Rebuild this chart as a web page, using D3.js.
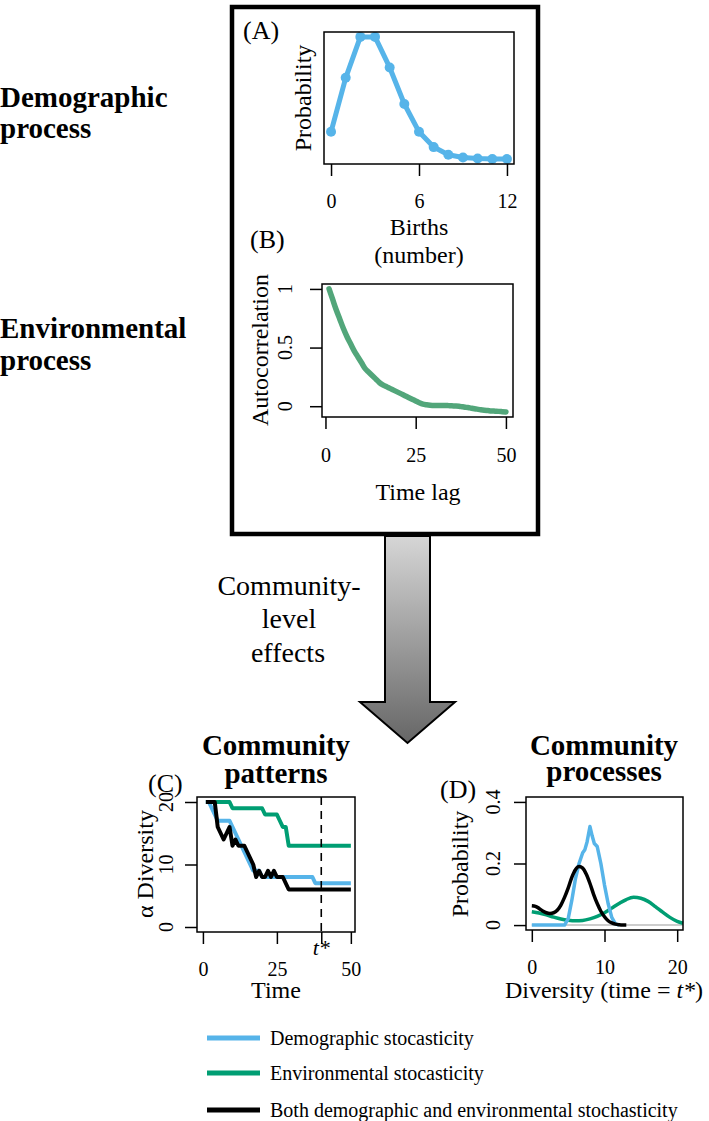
<!DOCTYPE html>
<html><head><meta charset="utf-8">
<script src="https://cdn.jsdelivr.net/npm/d3@7"></script>
<style>
body{margin:0;background:#fff}
svg{display:block}
text{font-family:"Liberation Serif","Times New Roman",serif;fill:#000}
</style>
</head><body>
<svg id="c" width="709" height="1121"></svg>
<script>
// ---------------- DATA ----------------
const BLUE = "#56B4E9", GREEN = "#009E73", GREEN_B = "#52a67a", BLACK = "#000000";

// Panel A: births distribution
const birthsX = [0,1,2,3,4,5,6,7,8,9,10,11,12];
const birthsProb = [0.050,0.149,0.224,0.224,0.168,0.101,0.050,0.022,0.008,0.003,0.001,0.0003,0.0001];
const birthsTicks = [0,6,12];

// Panel B: autocorrelation
const lagX = [1,2,3,4,5,6,7,8,9,10,11,12,13,14,15,16,17,18,19,20,21,22,23,24,25,26,27,28,29,30,31,32,33,34,35,36,37,38,39,40,41,42,43,44,45,46,47,48,49,50];
const autoCorr = [1.0,0.91,0.82,0.74,0.66,0.59,0.53,0.47,0.42,0.37,0.32,0.29,0.26,0.23,0.20,0.18,0.165,0.15,0.135,0.12,0.105,0.09,0.075,0.06,0.045,0.03,0.018,0.012,0.008,0.006,0.006,0.006,0.006,0.005,0.003,0.002,0.0,-0.005,-0.01,-0.014,-0.02,-0.025,-0.03,-0.034,-0.037,-0.04,-0.042,-0.044,-0.047,-0.05];
const lagTicks = [0,25,50];
const acTicks = [0,0.5,1];
const acTickLabels = ["0","0.5","1"];

// Panel C: alpha diversity through time
const timeX = [1,2,3,4,5,6,7,8,9,10,11,12,13,14,15,16,17,18,19,20,21,22,23,24,25,26,27,28,29,30,31,32,33,34,35,36,37,38,39,40,41,42,43,44,45,46,47,48,49,50];
const divEnv  = [20,20,20,20,20,20,20,20,20,19,19,19,19,19,19,19,19,19,19,19,18,18,18,18,18,17,16,16,13,13,13,13,13,13,13,13,13,13,13,13,13,13,13,13,13,13,13,13,13,13];
const divDemo = [20,20,19,18,17,17,17,17,17,16,15,14,13,12,11,10,9,9,9,8,8,8,8,8,8,8,8,8,8,8,8,8,8,8,8,8,8,7,7,7,7,7,7,7,7,7,7,7,7,7];
const divBoth = [20,20,20,20,16,15,14,15,16,13,14,13,13,13,12,11,10,8,9,8,8,9,8,9,8,8,8,7,6,6,6,6,6,6,6,6,6,6,6,6,6,6,6,6,6,6,6,6,6,6];
const timeTicks = [0,25,50];
const tStar = 40;
const divTicks = [0,10,20];

// Panel D: probability of diversity at t*
const demoX = [0,4.5,5,5.5,6,6.5,7,7.3,7.6,8.0,8.3,8.6,9.0,9.5,10,10.5,11,11.5,12];
const demoY = [0,0,0.02,0.08,0.15,0.20,0.235,0.245,0.27,0.32,0.29,0.265,0.255,0.20,0.13,0.07,0.025,0.004,0];
const bothX = [0,0.5,1,1.5,2,2.5,3,3.5,4,4.5,5,5.5,6,6.5,7,7.5,8,8.5,9,9.5,10,10.5,11,11.5,12,12.5,13];
const bothY = [0.063,0.061,0.054,0.046,0.040,0.038,0.040,0.048,0.065,0.090,0.120,0.155,0.180,0.190,0.185,0.165,0.135,0.100,0.070,0.045,0.027,0.014,0.007,0.003,0.001,0,0];
const envX = [0,1,2,3,4,5,6,7,8,9,10,11,12,13,14,15,16,17,18,19,20,20.8];
const envY = [0.043,0.039,0.033,0.026,0.020,0.016,0.014,0.015,0.020,0.028,0.040,0.055,0.070,0.083,0.090,0.087,0.077,0.060,0.042,0.025,0.012,0.006];
const dxTicks = [0,10,20];
const dyTicks = [0,0.2,0.4];
const dyTickLabels = ["0","0.2","0.4"];

const legendLabels = ["Demographic stocasticity","Environmental stocasticity","Both demographic and environmental stochasticity"];
const legendColors = [BLUE, GREEN, BLACK];

// ---------------- DRAW ----------------
const svg = d3.select('#c');
const defs = svg.append('defs');

function T(x,y,s,size,opt={}) {
  const t = svg.append('text').attr('x',x).attr('y',y).attr('font-size',size).text(s);
  if (opt.anchor) t.attr('text-anchor',opt.anchor);
  if (opt.bold) t.attr('font-weight','bold');
  if (opt.italic) t.attr('font-style','italic');
  if (opt.rot) t.attr('transform',`rotate(-90,${x},${y})`);
  return t;
}
function box(x0,y0,x1,y1,w=1.5){
  svg.append('rect').attr('x',x0).attr('y',y0).attr('width',x1-x0).attr('height',y1-y0)
    .attr('fill','none').attr('stroke','#000').attr('stroke-width',w);
}
function xAxis(scale, yPos, ticks, labels, offset=44){
  const g = svg.append('g').attr('transform',`translate(0,${yPos})`)
    .call(d3.axisBottom(scale).tickValues(ticks).tickSize(12).tickSizeOuter(0)
      .tickFormat((d,i)=>labels ? labels[i] : d));
  g.select('.domain').remove();
  g.selectAll('line').attr('stroke','#000').attr('stroke-width',1.5);
  g.selectAll('text').attr('y',offset).attr('dy',0).attr('font-size',20)
    .attr('font-family','"Liberation Serif", serif').attr('fill','#000');
  g.attr('font-family',null).attr('font-size',null);
  return g;
}
function yAxis(scale, xPos, ticks, labels, labelX){
  const g = svg.append('g').attr('transform',`translate(${xPos},0)`)
    .call(d3.axisLeft(scale).tickValues(ticks).tickSize(12).tickSizeOuter(0).tickFormat(''));
  g.select('.domain').remove();
  g.selectAll('line').attr('stroke','#000').attr('stroke-width',1.5);
  ticks.forEach((v,i)=>T(labelX, scale(v), labels[i], 20, {anchor:'middle', rot:true}));
}

// left headings
T(0,107,'Demographic',29,{bold:true});
T(0,138,'process',29,{bold:true});
T(0,338,'Environmental',29,{bold:true});
T(0,370,'process',29,{bold:true});

// big frame
svg.append('rect').attr('x',232).attr('y',7).attr('width',306).attr('height',527)
  .attr('fill','none').attr('stroke','#000').attr('stroke-width',4.5);

// ---- Panel A ----
const ax = d3.scaleLinear().domain([-0.48,12.48]).range([324,514]);
const ay = d3.scaleLinear().domain([-0.009,0.233]).range([164,32]);
const aData = birthsX.map((b,i)=>[b,birthsProb[i]]);
svg.append('path').datum(aData)
  .attr('d', d3.line().x(d=>ax(d[0])).y(d=>ay(d[1])))
  .attr('fill','none').attr('stroke',BLUE).attr('stroke-width',5).attr('stroke-linejoin','round');
svg.append('g').selectAll('circle').data(aData).join('circle')
  .attr('cx',d=>ax(d[0])).attr('cy',d=>ay(d[1])).attr('r',5).attr('fill',BLUE);
box(324,32,514,164);
xAxis(ax,164,birthsTicks);
T(243,39,'(A)',26);
T(311,98,'Probability',24,{anchor:'middle',rot:true});
T(419,235,'Births',24,{anchor:'middle'});
T(419,263,'(number)',24,{anchor:'middle'});

// ---- Panel B ----
const bx = d3.scaleLinear().domain([-0.96,51.96]).range([322,513]);
const by = d3.scaleLinear().domain([-0.092,1.042]).range([417,284]);
svg.append('path').datum(lagX.map((l,i)=>[l,autoCorr[i]]))
  .attr('d', d3.line().curve(d3.curveMonotoneX).x(d=>bx(d[0])).y(d=>by(d[1])))
  .attr('fill','none').attr('stroke',GREEN_B).attr('stroke-width',5.5).attr('stroke-linecap','round');
box(322,284,513,417);
xAxis(bx,417,lagTicks,null,45);
yAxis(by,322,acTicks,acTickLabels,292);
T(250,248,'(B)',26);
T(268,350,'Autocorrelation',24,{anchor:'middle',rot:true});
T(418,500,'Time lag',24,{anchor:'middle'});

// ---- Arrow ----
const grad = defs.append('linearGradient').attr('id','ag').attr('x1',0).attr('y1',0).attr('x2',0).attr('y2',1);
grad.append('stop').attr('offset','0%').attr('stop-color','#d6d6d6');
grad.append('stop').attr('offset','100%').attr('stop-color','#666666');
svg.append('path')
  .attr('d','M385,536 L430,536 L430,702 L455,702 L407.5,743 L360,702 L385,702 Z')
  .attr('fill','url(#ag)').attr('stroke','#000').attr('stroke-width',2).attr('stroke-linejoin','miter');
T(289,595,'Community-',28,{anchor:'middle'});
T(289,628,'level',28,{anchor:'middle'});
T(288,662,'effects',28,{anchor:'middle'});

// ---- Panel C ----
const cx = d3.scaleLinear().domain([-2,51.4]).range([197,355]);
const cy = d3.scaleLinear().domain([-0.8,20.8]).range([932,797]);
const cLine = d3.line().x(d=>cx(d[0])).y(d=>cy(d[1]));
[[divEnv,GREEN],[divDemo,BLUE],[divBoth,BLACK]].forEach(([arr,col])=>{
  svg.append('path').datum(timeX.map((t,i)=>[t,arr[i]])).attr('d',cLine)
    .attr('fill','none').attr('stroke',col).attr('stroke-width',4).attr('stroke-linejoin','round');
});
svg.append('line').attr('x1',cx(tStar)).attr('x2',cx(tStar)).attr('y1',797).attr('y2',932)
  .attr('stroke','#000').attr('stroke-width',1.6).attr('stroke-dasharray','8,6');
box(197,797,355,932);
xAxis(cx,932,[0,25,tStar,50],["0","25","","50"]);
T(cx(tStar),955,'t*',22,{anchor:'middle',italic:true});
yAxis(cy,197,divTicks,["0","10","20"],173);
T(148,792,'(C)',26);
T(153,864,'α Diversity',24,{anchor:'middle',rot:true});
T(276,998,'Time',24,{anchor:'middle'});
T(276,755,'Community',29,{anchor:'middle',bold:true});
T(276,783,'patterns',29,{anchor:'middle',bold:true});

// ---- Panel D ----
const dx = d3.scaleLinear().domain([-0.8,20.8]).range([526,683]);
const dy = d3.scaleLinear().domain([-0.016,0.416]).range([930,797]);
svg.append('line').attr('x1',dx(0)).attr('x2',683).attr('y1',dy(0)).attr('y2',dy(0))
  .attr('stroke','#bdbdbd').attr('stroke-width',1.5);
const dLine = d3.line().curve(d3.curveMonotoneX).x(d=>dx(d[0])).y(d=>dy(d[1]));
const dLineLin = d3.line().x(d=>dx(d[0])).y(d=>dy(d[1]));
svg.append('path').datum(envX.map((x,i)=>[x,envY[i]])).attr('d',dLine)
  .attr('fill','none').attr('stroke',GREEN).attr('stroke-width',3.5);
svg.append('path').datum(demoX.map((x,i)=>[x,demoY[i]])).attr('d',dLineLin)
  .attr('fill','none').attr('stroke',BLUE).attr('stroke-width',3.5).attr('stroke-linejoin','round');
svg.append('path').datum(bothX.map((x,i)=>[x,bothY[i]])).attr('d',dLine)
  .attr('fill','none').attr('stroke',BLACK).attr('stroke-width',3.5);
box(526,797,683,930);
xAxis(dx,930,dxTicks);
yAxis(dy,526,dyTicks,dyTickLabels,500);
T(440,798,'(D)',26);
T(468,864,'Probability',24,{anchor:'middle',rot:true});
const dl = T(604,998,'',24,{anchor:'middle'});
dl.append('tspan').text('Diversity (time = ');
dl.append('tspan').attr('font-style','italic').text('t*');
dl.append('tspan').text(')');
T(604,755,'Community',29,{anchor:'middle',bold:true});
T(604,781,'processes',29,{anchor:'middle',bold:true});

// ---- Legend ----
const legY = [1038,1073,1110];
legendLabels.forEach((lab,i)=>{
  svg.append('line').attr('x1',207).attr('x2',260).attr('y1',legY[i]).attr('y2',legY[i])
    .attr('stroke',legendColors[i]).attr('stroke-width',5);
  T(270,legY[i]+7,lab,20);
});
</script>
</body></html>
